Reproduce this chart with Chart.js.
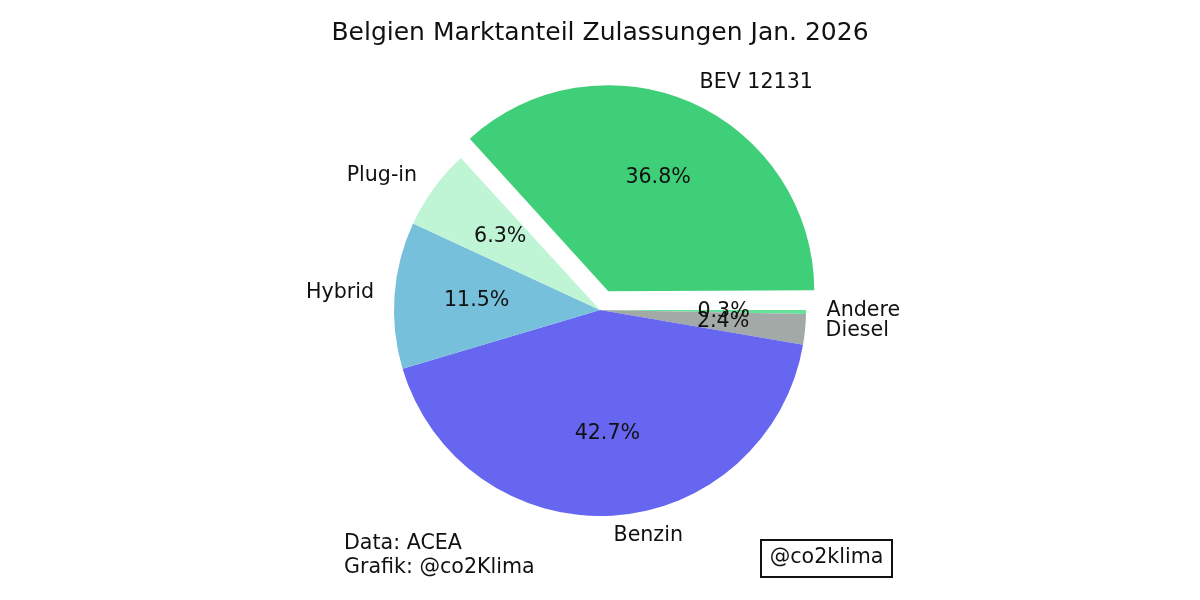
<!DOCTYPE html>
<html>
<head>
<meta charset="utf-8">
<title>Belgien Marktanteil</title>
<script src="https://cdn.jsdelivr.net/npm/chart.js@4"></script>
<style>
    body { margin: 0; background: #fff; }
</style>
</head>
<body>
<canvas id="pie" width="1200" height="600"></canvas>
<script>
// clockwise from 3 o'clock, so the order is the reverse of the legend reading
const categories = ["Andere", "Diesel", "Benzin", "Hybrid", "Plug-in", "BEV 12131"];
const shares = [0.3, 2.4, 42.7, 11.5, 6.3, 36.8];
const colors = ["#66e39a", "#a3a9a6", "#6666f0", "#76c0dc", "#bff5d5", "#3ecf78"];
const titleText = "Belgien Marktanteil Zulassungen Jan. 2026";
const notes = ["Data: ACEA", "Grafik: @co2Klima"];
const badge = "@co2klima";

const FONT = '"DejaVu Sans"';
const explodedShift = 20.6;
const explodedOffset = explodedShift * 4;   // chart.js moves an arc by offset / 4

function isExploded(i) {
    return categories[i] === "BEV 12131";
}

const pieLabels = {
    id: "pieLabels",
    beforeDatasetsDraw(chart) {
        // chart.js also grows an offset arc, pull it back to the same radius as the others
        const meta = chart.getDatasetMeta(0);
        meta.data.forEach((arc, i) => {
            if (isExploded(i)) {
                const fix = 1 - Math.sin(Math.min(Math.PI, arc.circumference));
                arc.outerRadius = meta.controller.outerRadius - explodedShift * fix;
            }
        });
    },
    afterDatasetsDraw(chart) {
        const ctx = chart.ctx;
        const meta = chart.getDatasetMeta(0);
        const r = meta.controller.outerRadius;
        ctx.save();
        ctx.fillStyle = "#111";
        ctx.font = `20.6px ${FONT}`;
        ctx.textBaseline = "middle";

        for (let i = meta.data.length - 1; i >= 0; i--) {
            const arc = meta.data[i];
            const mid = (arc.startAngle + arc.endAngle) / 2;
            const shift = isExploded(i) ? explodedShift : 0;
            const cx = arc.x + Math.cos(mid) * shift;
            const cy = arc.y + Math.sin(mid) * shift;

            ctx.textAlign = Math.cos(mid) > 0 ? "left" : "right";
            ctx.fillText(categories[i], cx + Math.cos(mid) * r * 1.1, cy + Math.sin(mid) * r * 1.1 - 1);

            ctx.textAlign = "center";
            ctx.fillText(shares[i].toFixed(1) + "%", cx + Math.cos(mid) * r * 0.6, cy + Math.sin(mid) * r * 0.6);
        }

        ctx.textAlign = "left";
        ctx.fillText(notes[0], 344, 544);
        ctx.fillText(notes[1], 344, 568);

        ctx.strokeStyle = "#111";
        ctx.lineWidth = 2;
        ctx.strokeRect(761, 540, 131, 37);
        ctx.textAlign = "center";
        ctx.fillText(badge, 826.5, 558);
        ctx.restore();
    }
};

new Chart(document.getElementById("pie"), {
    type: "pie",
    plugins: [pieLabels],
    data: {
        labels: categories,
        datasets: [{
            data: shares,
            backgroundColor: colors,
            borderWidth: 0,
            offset: categories.map((c, i) => isExploded(i) ? explodedOffset : 0)
        }]
    },
    options: {
        responsive: false,
        animation: false,
        rotation: 90,
        layout: { padding: { bottom: 42.8 } },
        plugins: {
            legend: { display: false },
            tooltip: { enabled: false },
            title: {
                display: true,
                text: titleText,
                color: "#111",
                font: { family: FONT, size: 25, weight: "normal" },
                padding: { top: 18.7, bottom: 14.1 }
            }
        }
    }
});
</script>
</body>
</html>
